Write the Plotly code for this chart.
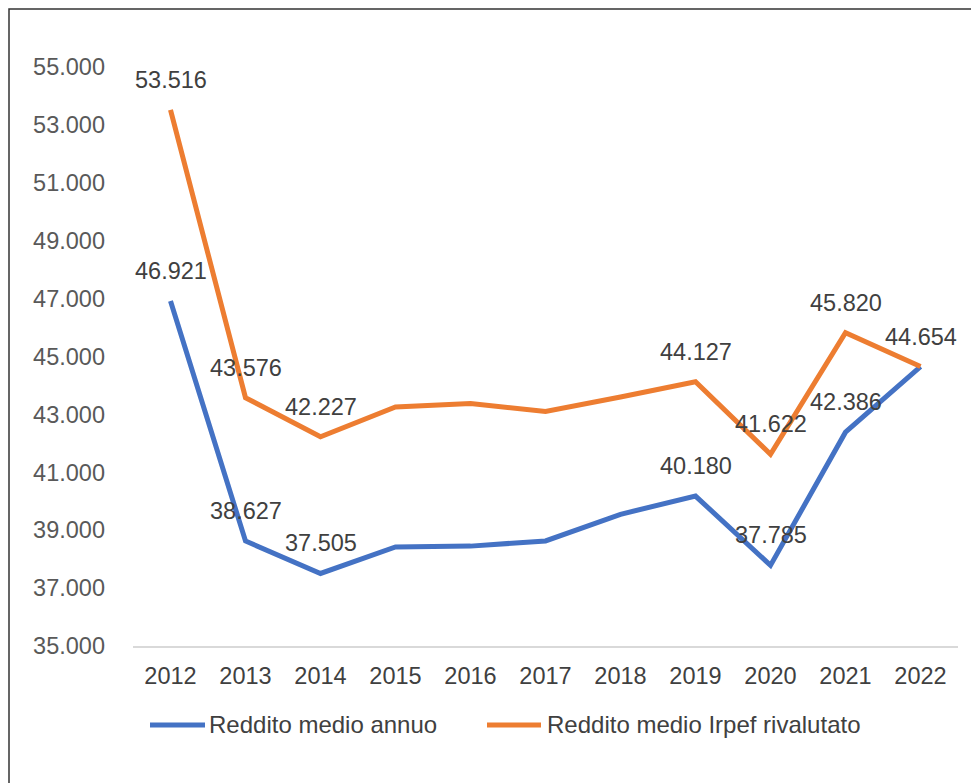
import plotly.graph_objects as go

years = [2012, 2013, 2014, 2015, 2016, 2017, 2018, 2019, 2020, 2021, 2022]
reddito_medio_annuo = [46921, 38627, 37505, 38420, 38450, 38630, 39550, 40180, 37785, 42386, 44654]
reddito_irpef_rivalutato = [53516, 43576, 42227, 43255, 43380, 43100, 43600, 44127, 41622, 45820, 44654]
labeled_annuo = [0, 1, 2, 7, 8, 9]
labeled_irpef = [0, 1, 2, 7, 8, 9, 10]
y_ticks = [35000, 37000, 39000, 41000, 43000, 45000, 47000, 49000, 51000, 53000, 55000]
series_names = ["Reddito medio annuo", "Reddito medio Irpef rivalutato"]

BLUE = "#4472C4"
ORANGE = "#ED7D31"
FONT = "Liberation Sans, Arial, sans-serif"
TXT = "#404040"

# page has an 8px body margin; compensate so the plot lands where the reference's does
L, R, T, B = 125, 21, 59, 137
W, H = 971, 775
PW, PH = W - L - R, H - T - B


def fmt(v):
    return f"{v:,}".replace(",", ".")


def px_x(px):
    return (px - 8 - L) / PW


def px_y(py):
    return (H - B - (py - 8)) / PH


fig = go.Figure()
fig.add_trace(go.Scatter(x=years, y=reddito_medio_annuo, mode="lines",
                         name=series_names[0], showlegend=False,
                         line=dict(color=BLUE, width=5)))
fig.add_trace(go.Scatter(x=years, y=reddito_irpef_rivalutato, mode="lines",
                         name=series_names[1], showlegend=False,
                         line=dict(color=ORANGE, width=5)))

annotations = []
for i in labeled_annuo:
    annotations.append(dict(x=years[i], y=reddito_medio_annuo[i], text=fmt(reddito_medio_annuo[i]),
                            showarrow=False, yshift=30, font=dict(size=23.5, color=TXT, family=FONT)))
for i in labeled_irpef:
    annotations.append(dict(x=years[i], y=reddito_irpef_rivalutato[i], text=fmt(reddito_irpef_rivalutato[i]),
                            showarrow=False, yshift=30, font=dict(size=23.5, color=TXT, family=FONT)))

shapes = [dict(type="rect", xref="paper", yref="paper", x0=px_x(9), x1=1.1, y0=-0.4, y1=px_y(9),
               line=dict(color="#333333", width=1.5), fillcolor="rgba(0,0,0,0)", layer="below")]

# manual legend (long line samples like the reference)
legend_items = [(series_names[0], BLUE, 150, 205, 207), (series_names[1], ORANGE, 487, 541, 545)]
for name, col, x0, x1, tx in legend_items:
    shapes.append(dict(type="line", xref="paper", yref="paper", x0=px_x(x0), x1=px_x(x1),
                       y0=px_y(725), y1=px_y(725), line=dict(color=col, width=5)))
    annotations.append(dict(xref="paper", yref="paper", x=px_x(tx), y=px_y(725), xanchor="left",
                            yanchor="middle", text=name, showarrow=False,
                            font=dict(size=24, color=TXT, family=FONT)))

fig.update_layout(
    width=W, height=H,
    margin=dict(l=L, r=R, t=T, b=B),
    paper_bgcolor="white", plot_bgcolor="white",
    separators=",.",
    font=dict(family=FONT, size=23.5, color=TXT),
    showlegend=False,
    annotations=annotations,
    shapes=shapes,
)
fig.update_xaxes(type="linear", range=[years[0] - 0.5, years[-1] + 0.5],
                 tickvals=years, ticktext=[str(y) for y in years],
                 showgrid=False, showline=True, linecolor="#D9D9D9", linewidth=1.5,
                 ticks="", tickfont=dict(size=23.5, color=TXT), ticklabelstandoff=8,
                 zeroline=False)
fig.update_yaxes(range=[35000, 55000], tickvals=y_ticks, tickformat=",.0f",
                 showgrid=False, showline=False, zeroline=False, ticks="",
                 tickfont=dict(size=23.5, color="#595959"), ticklabelstandoff=27)

fig.write_html("out.html")
